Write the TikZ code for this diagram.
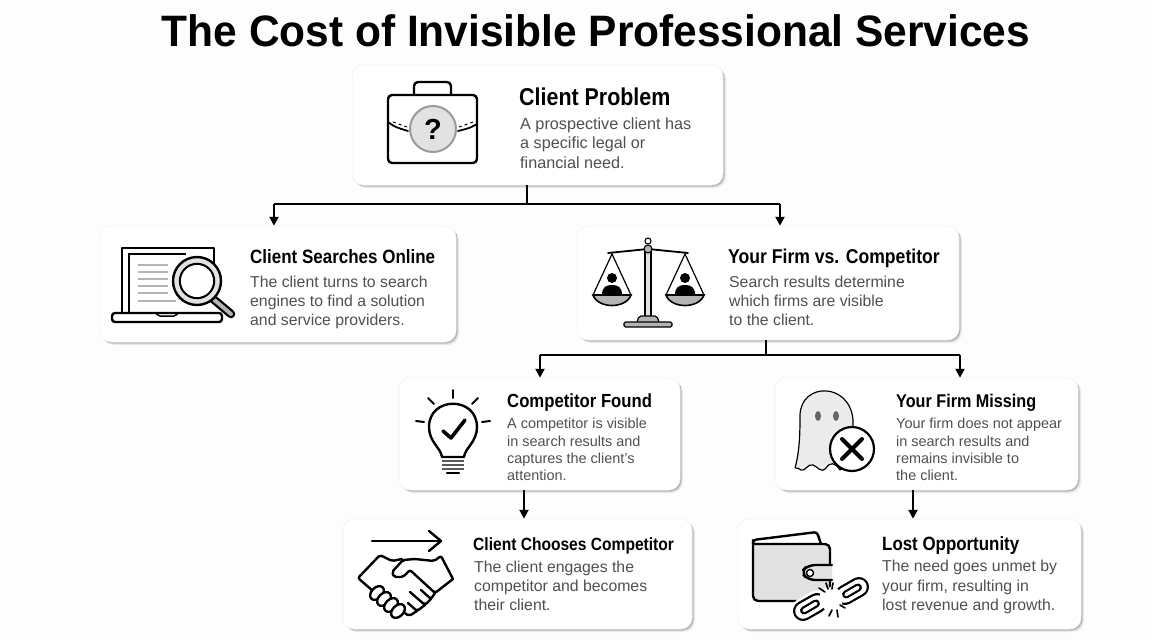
\documentclass[tikz,border=0pt]{standalone}
\usepackage{fontspec}
\setmainfont{Liberation Sans}
\newfontfamily\headfont[FakeStretch=0.88]{Liberation Sans Bold}
\newfontfamily\titlefont[FakeStretch=0.965]{Liberation Sans Bold}
\usetikzlibrary{arrows, arrows.meta, shadows, calc}
\definecolor{pagebg}{HTML}{FDFDFD}
\definecolor{bodygray}{HTML}{505050}
\definecolor{ringgray}{HTML}{9A9A9A}
\definecolor{softgray}{HTML}{E2E2E2}
\definecolor{midgray}{HTML}{B4B4B4}
\newcommand{\headsize}[1]{\fontsize{#1}{24}\headfont}
\tikzset{
  card/.style={draw=black!5, fill=white, rounded corners=11pt, line width=.5pt,
    drop shadow={shadow xshift=3pt, shadow yshift=-3pt, fill=black, opacity=.08},
    drop shadow={shadow xshift=1.5pt, shadow yshift=-1.5pt, fill=black, opacity=.22}},
  head/.style={anchor=base west, inner sep=0, text=black},
  body/.style={anchor=west, inner sep=0, align=left, text=bodygray, font=\fontsize{15.8}{19.3}\selectfont},
  bodytight/.style={body, font=\fontsize{14.45}{17.2}\selectfont},
  wire/.style={line width=2pt, black},
  arrowline/.style={wire, -{Triangle[width=9pt, length=9pt]}},
  icon/.style={line width=2.4pt, black, line join=round, line cap=round}
}

\begin{document}
\begin{tikzpicture}[x=1pt, y=-1pt]

\path [use as bounding box, fill=pagebg] (0, 0) rectangle (1152, 640);

\node [inner sep=0, font=\fontsize{44}{50}\titlefont] (title) at (596, 31) {The Cost of Invisible Professional Services};

% cards
\node [card, minimum width=371pt, minimum height=120pt] (problem) at (537.5, 125) {};
\node [card, minimum width=356pt, minimum height=116pt] (search) at (278, 284) {};
\node [card, minimum width=382pt, minimum height=114pt] (firm) at (768, 283) {};
\node [card, minimum width=281pt, minimum height=112pt] (found) at (539.5, 434) {};
\node [card, minimum width=303pt, minimum height=112pt] (missing) at (926.5, 434) {};
\node [card, minimum width=349pt, minimum height=110pt] (chooses) at (517.5, 574) {};
\node [card, minimum width=343pt, minimum height=110pt] (lost) at (909.5, 574) {};

% card texts
\node [head, font=\headsize{24.35}] (problemhead) at (519, 105) {Client Problem};
\node [body, font=\fontsize{16.2}{19.3}\selectfont] (problembody) at (520, 143) {A prospective client has\\a specific legal or\\financial need.};
\node [head, font=\headsize{19.3}] (searchhead) at (250, 263) {Client Searches Online};
\node [body] (searchbody) at (250, 302.5) {The client turns to search\\engines to find a solution\\and service providers.};
\node [head, font=\headsize{20}] (firmhead) at (728, 263) {Your Firm vs. Competitor};
\node [body] (firmbody) at (729, 301) {Search results determine\\which firms are visible\\to the client.};
\node [head, font=\headsize{19}] (foundhead) at (507, 407) {Competitor Found};
\node [bodytight] (foundbody) at (507, 449.5) {A competitor is visible\\in search results and\\captures the client's\\attention.};
\node [head, font=\headsize{18.4}] (missinghead) at (896, 407) {Your Firm Missing};
\node [bodytight] (missingbody) at (896, 449.5) {Your firm does not appear\\in search results and\\remains invisible to\\the client.};
\node [head, font=\headsize{17.7}] (chooseshead) at (473, 550) {Client Chooses Competitor};
\node [body] (choosesbody) at (474, 586) {The client engages the\\competitor and becomes\\their client.};
\node [head, font=\headsize{19.2}] (losthead) at (882, 550) {Lost Opportunity};
\node [body] (lostbody) at (882, 587) {The need goes unmet by\\your firm, resulting in\\lost revenue and growth.};

% connectors
\coordinate (busa) at (527, 204);
\coordinate (busaleft) at (274, 204);
\coordinate (busaright) at (780, 204);
\draw [wire] (busa |- problem.south) -- (busa);
\draw [wire] (busaleft) -- (busaright);
\draw [arrowline] (busaleft) -- (busaleft |- search.north);
\draw [arrowline] (busaright) -- (busaright |- firm.north);

\coordinate (busb) at (766, 355);
\coordinate (busbleft) at (540, 355);
\coordinate (busbright) at (960, 355);
\draw [wire] (busb |- firm.south) -- (busb);
\draw [wire] (busbleft) -- (busbright);
\draw [arrowline] (busbleft) -- (busbleft |- found.north);
\draw [arrowline] (busbright) -- (busbright |- missing.north);

\coordinate (linkc) at (524, 505);
\coordinate (linkd) at (913, 505);
\draw [arrowline] (linkc |- found.south) -- (linkc |- chooses.north);
\draw [arrowline] (linkd |- missing.south) -- (linkd |- lost.north);

% briefcase
\draw [icon, rounded corners=4pt] (388, 95) rectangle (477, 163);
\draw [icon, rounded corners=4pt] (414, 95) -- (414, 82) -- (451, 82) -- (451, 95);
\draw [icon, line width=1.8pt] (388, 122) .. controls (395, 127) .. (408, 131);
\draw [icon, line width=1.8pt] (477, 124) .. controls (470, 128) .. (458, 131);
\draw [line width=1pt, dashed] (393, 122) -- (407, 127);
\draw [line width=1pt, dashed] (473, 122) -- (459, 127);
\draw [fill=softgray, draw=ringgray, line width=2pt] (433, 129) circle (23);
\node [inner sep=0, font=\fontsize{29}{30}\selectfont\bfseries] (qmark) at (433, 129) {?};

% laptop and magnifier
\draw [icon] (122, 313) -- (122, 248) -- (214, 248) -- (214, 266);
\draw [line width=1.3pt] (129, 313) -- (129, 254) -- (186, 254);
\draw [icon, rounded corners=3pt, fill=white] (112, 313) rectangle (222, 322);
\draw [line width=1.5pt, rounded corners=2pt] (156, 313) -- (158, 316) -- (176, 316) -- (178, 313);
\foreach \ly/\lx in {265/168, 272/168, 279/168, 286/168, 293/168, 301/176}
  \draw [line width=1.5pt, midgray] (138, \ly) -- (\lx, \ly);
\draw [line width=8.5pt, black, line cap=round] (212, 298) -- (231, 314);
\draw [line width=4pt, midgray, line cap=round] (212, 298) -- (231, 314);
\draw [icon, fill=softgray, even odd rule] (197, 281) circle (24) (197, 281) circle (17);
\fill [white] (197, 281) circle (16);

% scales
\draw [line width=1.2pt, fill=softgray] (645, 252) rectangle (651, 317);
\draw [line width=1.2pt, fill=midgray, rounded corners=2pt] (637, 322) -- (639, 316) -- (657, 316) -- (659, 322);
\draw [line width=1.2pt, fill=midgray, rounded corners=1.5pt] (624, 322) rectangle (672, 327);
\draw [icon, line width=1.8pt] (608, 253) -- (648, 249) -- (688, 253);
\draw [line width=1.1pt, fill=white] (648, 241) circle (3);
\draw [line width=1.1pt, fill=midgray] (648, 249) circle (4);
\foreach \px in {612, 685} {
  \draw [line width=1.2pt] (\px-19, 295) -- (\px, 254) -- (\px+19, 295);
  \draw [line width=1.6pt, fill=midgray] (\px-19, 295) .. controls (\px-14, 309) and (\px+14, 309) .. (\px+19, 295) -- cycle;
  \fill [black] (\px, 278) circle (5);
  \fill [black] (\px-10, 295) .. controls (\px-10, 287) and (\px-6, 285) .. (\px, 285) .. controls (\px+6, 285) and (\px+10, 287) .. (\px+10, 295) -- cycle;
}

% bulb
\draw [icon] (442, 457) .. controls (441, 448) and (429, 442) .. (429, 427) .. controls (429, 396) and (477, 396) .. (477, 427) .. controls (477, 442) and (465, 448) .. (464, 457) -- cycle;
\foreach \by in {461, 465, 469}
  \draw [line width=2.6pt, black!65] (442, \by) -- (464, \by);
\draw [icon, line width=2.4pt] (447, 473) -- (459, 473);
\draw [icon, line width=2pt] (453, 390) -- (453, 398);
\draw [icon, line width=2pt] (428, 398) -- (434, 404);
\draw [icon, line width=2pt] (478, 398) -- (472, 404);
\draw [icon, line width=2pt] (416, 421) -- (424, 422);
\draw [icon, line width=2pt] (490, 421) -- (482, 422);
\draw [icon, line width=3.6pt] (443, 431) -- (451, 438) -- (465, 420);

% ghost
\draw [line width=1.2pt, fill=softgray!70, line join=round] (795, 468) .. controls (800, 450) and (800, 430) .. (800, 415)
  .. controls (801, 382) and (850, 382) .. (853, 420) -- (853, 460) -- (840, 470)
  .. controls (835, 462) and (830, 462) .. (826, 468) .. controls (821, 474) and (817, 466) .. (813, 465)
  .. controls (808, 463) and (805, 472) .. (801, 470) .. controls (799, 469) and (797, 467) .. (795, 468);
\fill [black!60] (818, 416) ellipse (3 and 5);
\fill [black!60] (836, 416) ellipse (3 and 5);
\draw [icon, fill=white, line width=2.2pt] (852, 449) circle (22);
\draw [icon, line width=4pt] (842, 439) -- (862, 459);
\draw [icon, line width=4pt] (862, 439) -- (842, 459);

% handshake
\draw [icon] (372, 541) -- (441, 541);
\draw [icon] (429, 531) -- (441, 541) -- (429, 551);
\draw [icon, rounded corners=2pt] (373, 591) -- (358, 578) -- (380, 555) -- (392, 561) -- (402, 559);
\draw [icon, rounded corners=2pt] (453, 579) -- (441, 556) -- (434, 561) -- (415, 559) -- (403, 560) -- (392, 572) -- (394, 577) -- (403, 577) -- (410, 570) -- (435, 593) -- (453, 579);
\draw [icon, rounded corners=2pt] (435, 593) -- (431, 599) -- (421, 590);
\draw [icon, rounded corners=2pt] (431, 599) -- (425, 605) -- (410, 592);
\draw [icon, rounded corners=2pt] (425, 605) -- (417, 611) -- (408, 603);
\draw [icon, rounded corners=2pt] (417, 611) -- (409, 616) -- (402, 611);
\foreach \kx/\ky in {377/593, 384/599, 391/605, 398/611}
  \draw [icon, rotate around={45:(\kx, \ky)}, fill=white] (\kx, \ky) ellipse (8 and 5.5);

% wallet
\draw [icon, fill=white, rounded corners=3pt] (753, 544) -- (753, 540) -- (817, 532) -- (821, 544);
\draw [icon, fill=softgray, rounded corners=5pt] (753, 540) -- (753, 601) -- (830, 601) -- (830, 544) -- (753, 544);
\draw [icon, fill=softgray, rounded corners=7pt] (832, 565) -- (808, 565) -- (801, 572) -- (808, 580) -- (832, 580);
\draw [line width=1.4pt, fill=white] (810, 573) circle (3.5);

% broken chain
\foreach \cx/\cy in {810/607, 852/591} {
  \draw [white, line width=25pt, line cap=round] (\cx-7, \cy+4) -- (\cx+7, \cy-4);
  \draw [black, line width=20pt, line cap=round] (\cx-7, \cy+4) -- (\cx+7, \cy-4);
  \draw [white, line width=15.5pt, line cap=round] (\cx-7, \cy+4) -- (\cx+7, \cy-4);
  \draw [black, line width=8pt, line cap=round] (\cx-6, \cy+3.5) -- (\cx+6, \cy-3.5);
  \draw [white, line width=3.6pt, line cap=round] (\cx-6, \cy+3.5) -- (\cx+6, \cy-3.5);
}
\fill [white] (831, 599) circle (12);
\foreach \sa/\sb/\sc/\sd in {819/588/825/592, 826/583/828/589, 833/583/832/589, 845/608/840/605, 838/617/837/610, 829/616/832/610}
  \draw [icon, line width=1.6pt] (\sa, \sb) -- (\sc, \sd);

\end{tikzpicture}
\end{document}
